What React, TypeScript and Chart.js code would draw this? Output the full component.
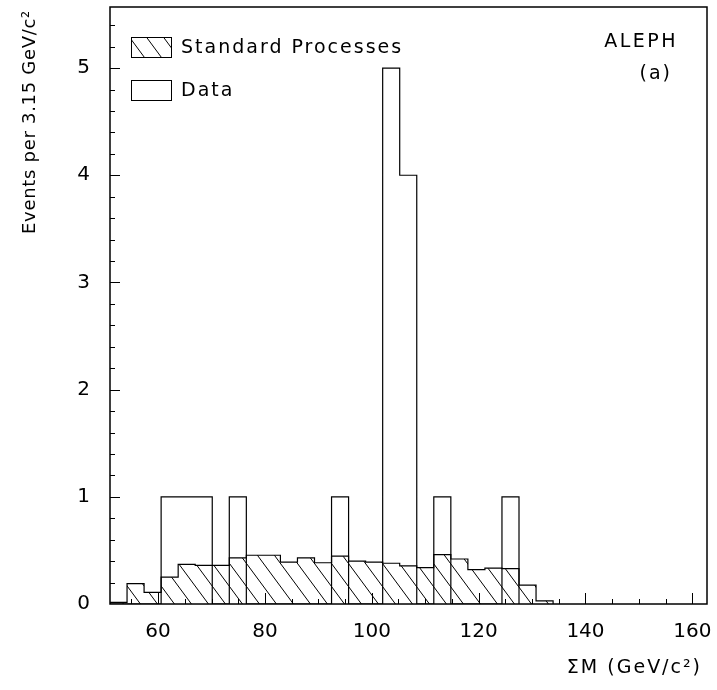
import React, { useEffect, useRef } from 'react';
import { Chart, registerables } from 'chart.js';

Chart.register(...registerables);

// ---- data ----
const BIN_START = 51.0;
const BIN_WIDTH = 3.19;
const X_MIN = 51.0;
const X_MAX = 162.75;
const Y_MIN = 0;
const Y_MAX = 5.57;
const X_TICK_LABELS = [60, 80, 100, 120, 140, 160];
const Y_TICK_LABELS = [0, 1, 2, 3, 4, 5];

// Standard Model expectation per bin (hatched histogram)
const standardProcesses = [
  0.015, 0.19, 0.108, 0.25, 0.37, 0.36, 0.36, 0.43, 0.455, 0.455,
  0.39, 0.43, 0.385, 0.446, 0.4, 0.39, 0.38, 0.356, 0.34, 0.46,
  0.42, 0.32, 0.334, 0.33, 0.176, 0.03,
];
// Observed events per bin (open histogram)
const dataCounts = [
  0, 0, 0, 1, 1, 1, 0, 1, 0, 0,
  0, 0, 0, 1, 0, 0, 5, 4, 0, 1,
  0, 0, 0, 1,
];

const LEGEND_LABELS = ['Standard Processes', 'Data'];
const X_TITLE = 'ΣM (GeV/c²)';
const Y_TITLE = 'Events per 3.15 GeV/c²';
const EXPERIMENT = 'ALEPH';
const PANEL = '(a)';

const FONT = '"DejaVu Sans", "Liberation Sans", sans-serif';

function histPoints(values: number[]) {
  const pts: { x: number; y: number }[] = [{ x: BIN_START, y: 0 }];
  values.forEach((v, i) => pts.push({ x: BIN_START + i * BIN_WIDTH, y: v }));
  pts.push({ x: BIN_START + values.length * BIN_WIDTH, y: 0 });
  return pts;
}

function makeHatch(ctx: CanvasRenderingContext2D): CanvasPattern | string {
  const w = 17;
  const h = 23;
  const tile = document.createElement('canvas');
  tile.width = w;
  tile.height = h;
  const c = tile.getContext('2d');
  if (!c) return '#fff';
  c.strokeStyle = '#000';
  c.lineWidth = 1;
  c.beginPath();
  for (let k = -1; k <= 1; k++) {
    c.moveTo(k * w, 0);
    c.lineTo(k * w + w, h);
  }
  c.stroke();
  return ctx.createPattern(tile, 'repeat') || '#fff';
}

function drawSpaced(
  ctx: CanvasRenderingContext2D,
  text: string,
  x: number,
  y: number,
  size: number,
  spacing: number,
  align: CanvasTextAlign
) {
  ctx.font = `${size}px ${FONT}`;
  (ctx as any).letterSpacing = `${spacing}px`;
  ctx.textAlign = align;
  ctx.textBaseline = 'middle';
  ctx.fillStyle = '#000';
  ctx.fillText(text, x, y);
  (ctx as any).letterSpacing = '0px';
}

const pawPlugin = {
  id: 'pawFrame',
  afterDraw(chart: any) {
    const { ctx, chartArea: a, scales } = chart;
    const xs = scales.x;
    const ys = scales.y;
    ctx.save();
    ctx.strokeStyle = '#000';
    ctx.lineWidth = 1;
    ctx.beginPath();
    for (let v = 55; v <= 160; v += 5) {
      const px = Math.round(xs.getPixelForValue(v)) + 0.5;
      const len = v % 20 === 0 ? 11 : 5;
      ctx.moveTo(px, a.bottom);
      ctx.lineTo(px, a.bottom - len);
    }
    for (let i = 1; i <= 27; i++) {
      const py = Math.round(ys.getPixelForValue(i * 0.2)) + 0.5;
      const len = i % 5 === 0 ? 10 : 5;
      ctx.moveTo(a.left, py);
      ctx.lineTo(a.left + len, py);
    }
    ctx.stroke();

    ctx.lineWidth = 1.5;
    ctx.strokeRect(a.left, a.top, a.right - a.left, a.bottom - a.top);

    // legend
    const bx = a.left + 21;
    const bw = 40;
    const bh = 20;
    ctx.lineWidth = 1;
    ctx.fillStyle = makeHatch(ctx);
    ctx.fillRect(bx, 37, bw, bh);
    ctx.strokeRect(bx + 0.5, 37.5, bw, bh);
    ctx.strokeRect(bx + 0.5, 80.5, bw, bh);
    drawSpaced(ctx, LEGEND_LABELS[0], bx + 50, 48, 19, 2, 'left');
    drawSpaced(ctx, LEGEND_LABELS[1], bx + 50, 91, 19, 2, 'left');

    // experiment label
    drawSpaced(ctx, EXPERIMENT, a.right - 29, 42, 19, 2.5, 'right');
    drawSpaced(ctx, PANEL, a.right - 35, 74, 19, 2, 'right');

    // axis titles
    drawSpaced(ctx, X_TITLE, a.right - 5, 668, 19, 2, 'right');
    ctx.save();
    ctx.translate(30, 10);
    ctx.rotate(-Math.PI / 2);
    drawSpaced(ctx, Y_TITLE, 0, 0, 18, 0.7, 'right');
    ctx.restore();

    ctx.restore();
  },
};

export default function App() {
  const ref = useRef<HTMLCanvasElement | null>(null);

  useEffect(() => {
    const canvas = ref.current;
    if (!canvas) return;
    const ctx = canvas.getContext('2d');
    if (!ctx) return;
    const hatch = makeHatch(ctx);

    const chart = new Chart(canvas, {
      type: 'line',
      data: {
        datasets: [
          {
            label: LEGEND_LABELS[1],
            data: histPoints(dataCounts),
            borderColor: '#000',
            borderWidth: 1.2,
            backgroundColor: 'rgba(0,0,0,0)',
            fill: false,
            stepped: 'before',
            pointRadius: 0,
            tension: 0,
          },
          {
            label: LEGEND_LABELS[0],
            data: histPoints(standardProcesses),
            borderColor: '#000',
            borderWidth: 1.2,
            backgroundColor: hatch as any,
            fill: 'origin',
            stepped: 'before',
            pointRadius: 0,
            tension: 0,
          },
        ],
      },
      options: {
        animation: false,
        responsive: false,
        devicePixelRatio: 1,
        events: [],
        layout: { padding: { left: 0, top: 7, right: 10, bottom: 0 } },
        plugins: { legend: { display: false }, tooltip: { enabled: false } },
        scales: {
          x: {
            type: 'linear',
            min: X_MIN,
            max: X_MAX,
            afterFit: (s: any) => {
              s.height = 86;
              s.paddingLeft = 0;
              s.paddingRight = 0;
              s.paddingTop = 0;
              s.paddingBottom = 0;
            },
            afterBuildTicks: (s: any) => {
              s.ticks = X_TICK_LABELS.map((v) => ({ value: v }));
            },
            grid: { display: false, drawTicks: false },
            border: { display: false },
            ticks: {
              color: '#000',
              padding: 16,
              maxRotation: 0,
              autoSkip: false,
              font: { family: FONT, size: 20 },
            },
          },
          y: {
            type: 'linear',
            min: Y_MIN,
            max: Y_MAX,
            afterFit: (s: any) => {
              s.width = 110;
              s.paddingLeft = 0;
              s.paddingRight = 0;
              s.paddingTop = 0;
              s.paddingBottom = 0;
            },
            afterBuildTicks: (s: any) => {
              s.ticks = Y_TICK_LABELS.map((v) => ({ value: v }));
            },
            grid: { display: false, drawTicks: false },
            border: { display: false },
            ticks: {
              color: '#000',
              padding: 20,
              autoSkip: false,
              font: { family: FONT, size: 20 },
            },
          },
        },
      },
      plugins: [pawPlugin],
    });

    return () => chart.destroy();
  }, []);

  return (
    <div style={{ position: 'fixed', left: 0, top: 0, width: 717, height: 690, background: '#fff' }}>
      <canvas ref={ref} width={717} height={690} style={{ display: 'block' }} />
    </div>
  );
}
